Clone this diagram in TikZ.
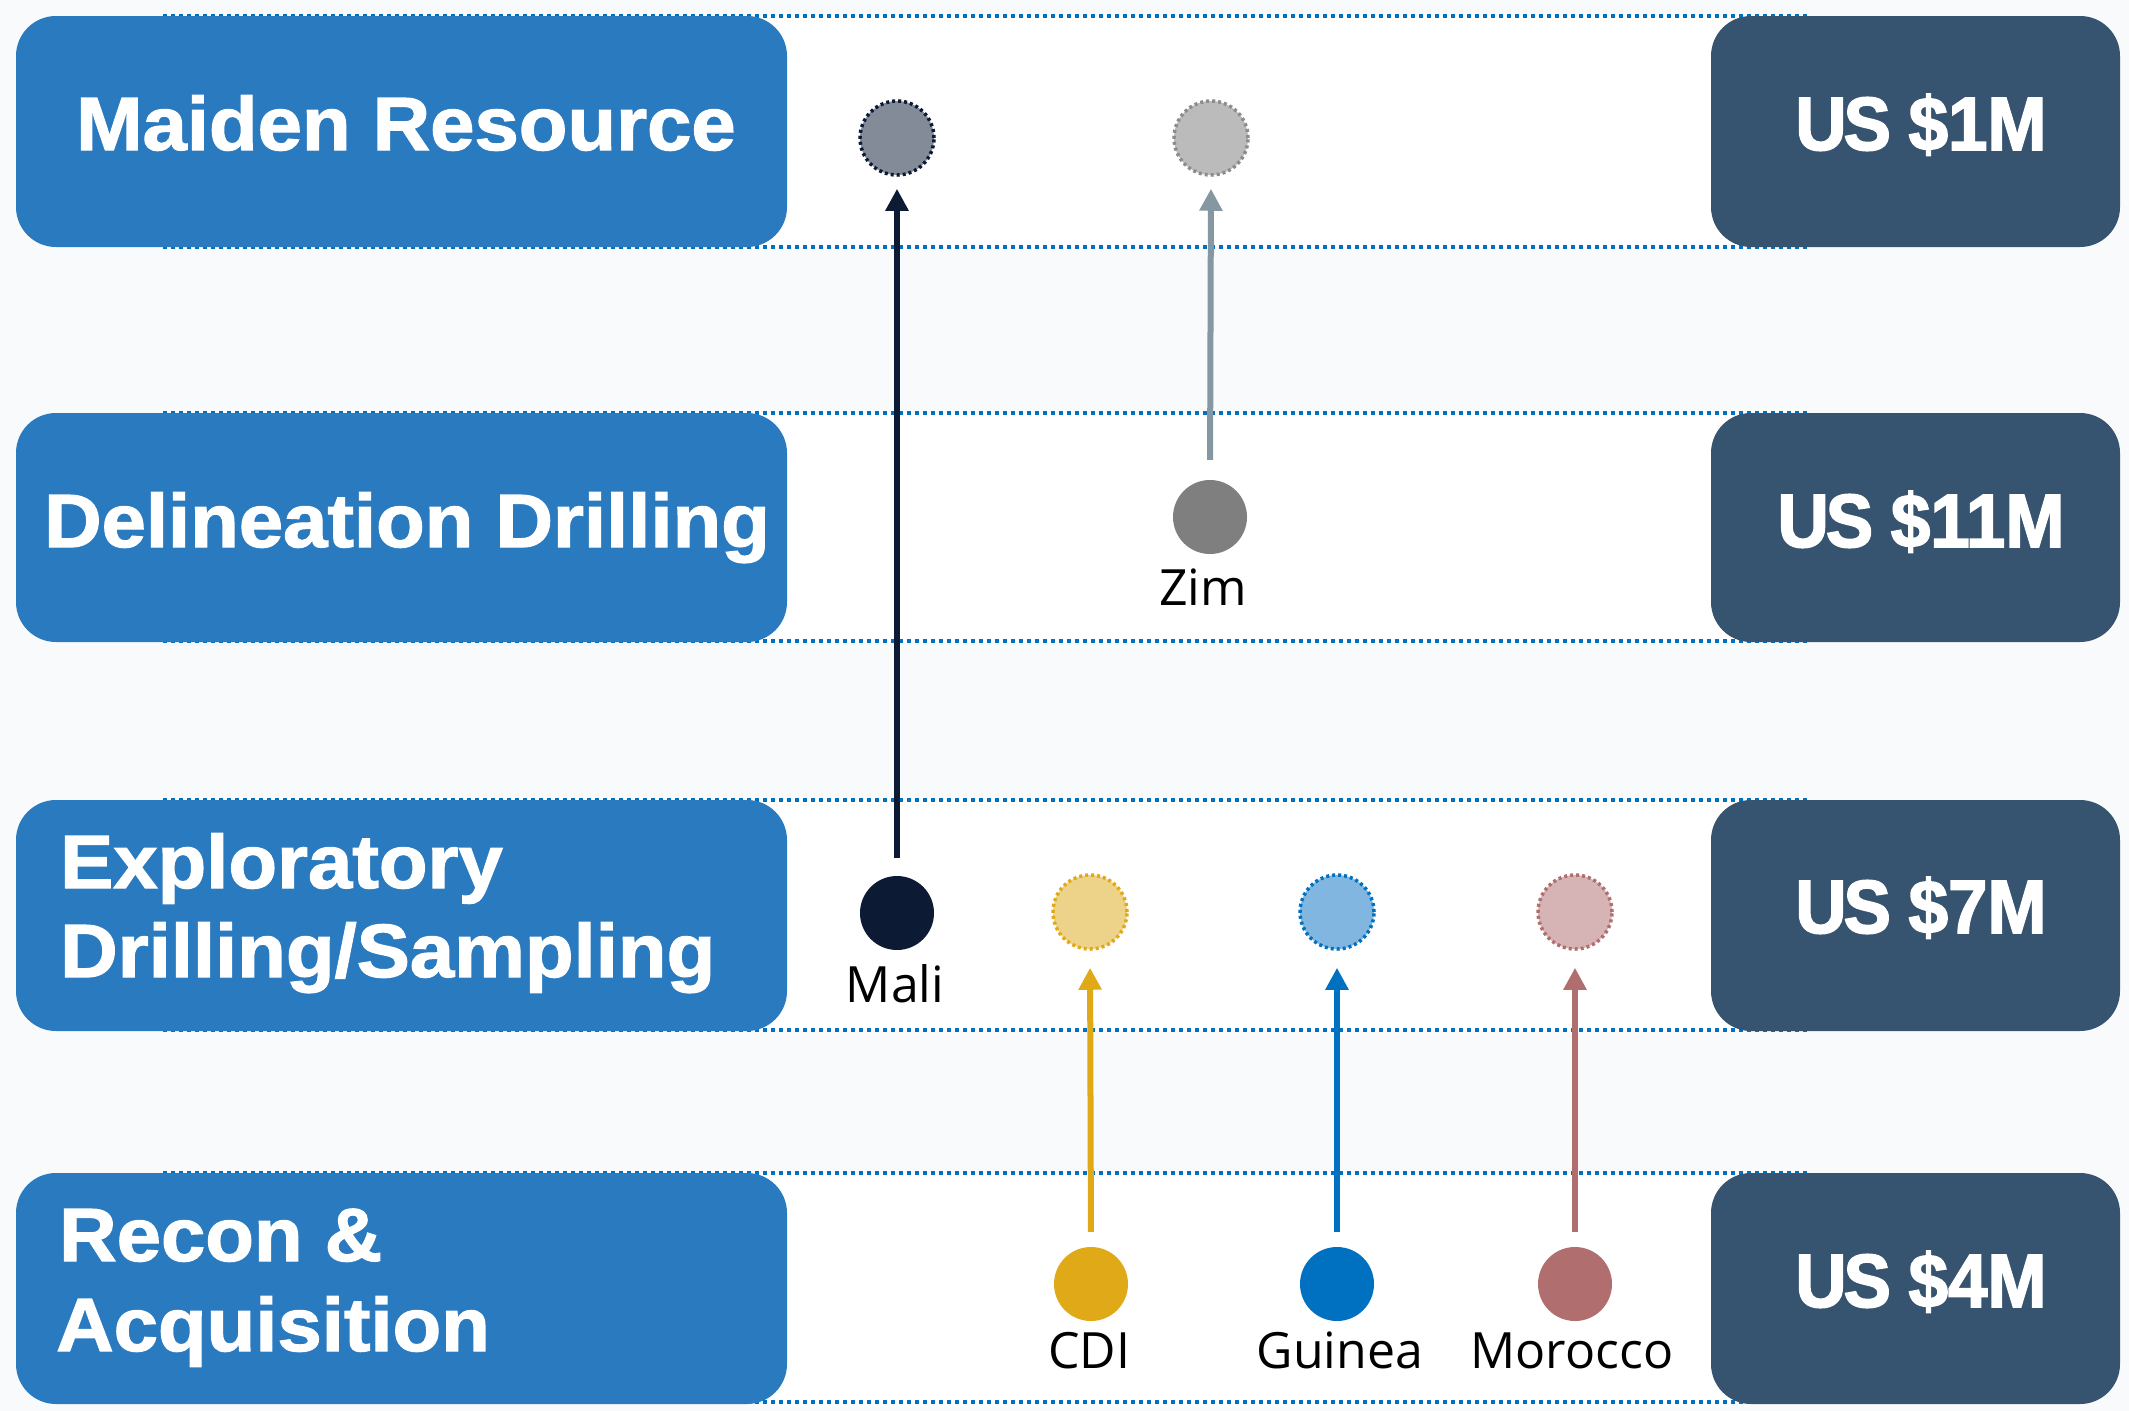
\documentclass[tikz,border=0pt]{standalone}
\usepackage{fontspec}
\usetikzlibrary{arrows.meta}
\newfontfamily\titlefont{Liberation Sans}[FakeStretch=1.055,FakeBold=1.6]
\newfontfamily\costfont{Liberation Sans}[FakeStretch=0.94,FakeBold=2.2]
\newfontfamily\labelfont{Open Sans}
\definecolor{bgc}{HTML}{F8FAFC}
\definecolor{lblue}{HTML}{2A7AC0}
\definecolor{dbox}{HTML}{36536F}
\definecolor{dotc}{HTML}{0070C0}
\definecolor{malic}{HTML}{0C1A33}
\definecolor{maligf}{HTML}{838A98}
\definecolor{zimc}{HTML}{7F7F7F}
\definecolor{zimgf}{HTML}{BBBBBB}
\definecolor{zimgb}{HTML}{8C8C8C}
\definecolor{zima}{HTML}{8597A1}
\definecolor{cdic}{HTML}{E0A918}
\definecolor{cdigf}{HTML}{EDD38A}
\definecolor{guic}{HTML}{0070C0}
\definecolor{guigf}{HTML}{80B6DF}
\definecolor{morc}{HTML}{B06E6E}
\definecolor{morgf}{HTML}{D6B4B5}
\tikzset{
  lbox/.style={fill=lblue, draw=none, rounded corners=40pt, minimum width=771pt, inner sep=0pt},
  rbox/.style={fill=dbox, draw=none, rounded corners=40pt, minimum width=409pt, inner sep=0pt},
  ttext/.style={text=white, inner sep=0pt, font=\titlefont\bfseries\fontsize{75.5}{89}\selectfont},
  ctext/.style={text=white, inner sep=0pt, font=\costfont\bfseries\fontsize{75.5}{89}\selectfont},
  lab/.style={text=black, inner sep=0pt, font=\labelfont\fontsize{50}{60}\selectfont},
  dotline/.style={draw=dotc, line width=3.5pt, dash pattern=on 3.5pt off 4.5pt},
  country/.style={circle, minimum size=74pt, inner sep=0pt, draw=none, fill=#1},
  ghost/.style 2 args={circle, minimum size=74pt, inner sep=0pt, fill=#1, draw=#2, line width=3.5pt, dash pattern=on 3pt off 3pt},
  arr/.style={line width=6pt, -{Triangle[width=22pt,length=22pt]}, draw=#1}
}
\begin{document}
\begin{tikzpicture}[x=1pt,y=-1pt]
\useasboundingbox (0,0) rectangle (2129,1411);
\fill[bgc] (0,0) rectangle (2129,1411);
% bands
\foreach \t/\b in {16/247, 413/641, 800/1030, 1173/1402}{
  \fill[white] (163,\t) rectangle (1809,\b);
  \draw[dotline] (163,\t) -- (1809,\t);
  \draw[dotline] (163,\b) -- (1809,\b);
}
% left boxes
\node[lbox, minimum height=231pt] (b1) at (401.5,131.5) {};
\node[lbox, minimum height=229pt] (b2) at (401.5,527.5) {};
\node[lbox, minimum height=231pt] (b3) at (401.5,915.5) {};
\node[lbox, minimum height=231pt] (b4) at (401.5,1288.5) {};
% right boxes
\node[rbox, minimum height=231pt] (r1) at (1915.5,131.5) {};
\node[rbox, minimum height=229pt] (r2) at (1915.5,527.5) {};
\node[rbox, minimum height=231pt] (r3) at (1915.5,915.5) {};
\node[rbox, minimum height=231pt] (r4) at (1915.5,1288.5) {};
% titles
\node[ttext, anchor=base] (t1) at (406,150) {Maiden Resource};
\node[ttext, anchor=base] (t2) at (407,547) {Delineation Drilling};
\node[ttext, anchor=base west] (t3a) at (60,888) {Exploratory};
\node[ttext, anchor=base west] (t3b) at (60,977) {Drilling/Sampling};
\node[ttext, anchor=base west] (t4a) at (59,1261) {Recon \&};
\node[ttext, anchor=base west] (t4b) at (56,1351) {Acquisition};
% costs
\node[ctext, anchor=base] (c1) at (1921,150) {U\kern-3ptS\kern-2pt{} \$1M};
\node[ctext, anchor=base] (c2) at (1921,547) {U\kern-3ptS\kern-2pt{} \$11M};
\node[ctext, anchor=base] (c3) at (1921,933) {U\kern-3ptS\kern-2pt{} \$7M};
\node[ctext, anchor=base] (c4) at (1921,1307) {U\kern-3ptS\kern-2pt{} \$4M};
% ghost circles
\node[ghost={maligf}{malic}] (malig) at (897,138) {};
\node[ghost={zimgf}{zimgb}] (zimg) at (1211,138) {};
\node[ghost={cdigf}{cdic}] (cdig) at (1090,912) {};
\node[ghost={guigf}{guic}] (guig) at (1337,912) {};
\node[ghost={morgf}{morc}] (morg) at (1575,912) {};
% country circles
\node[country=malic] (mali) at (897,913) {};
\node[country=zimc] (zim) at (1210,517) {};
\node[country=cdic] (cdi) at (1091,1284) {};
\node[country=guic] (gui) at (1337,1284) {};
\node[country=morc] (mor) at (1575,1284) {};
% labels
\node[lab, anchor=base] (lmali) at (895,1002) {Mali};
\node[lab, anchor=base] (lzim) at (1203,605) {Zim};
\node[lab, anchor=base] (lcdi) at (1089,1368) {CDI};
\node[lab, anchor=base] (lgui) at (1340,1368) {Guinea};
\node[lab, anchor=base] (lmor) at (1572,1368) {Morocco};
% arrows
\draw[arr=malic, shorten <=18pt, shorten >=12pt] (mali.north) -- (malig.south);
\draw[arr=zima, shorten <=20pt, shorten >=12pt] (zim.north) -- (zimg.south);
\draw[arr=cdic, shorten <=15pt, shorten >=17pt] (cdi.north) -- (cdig.south);
\draw[arr=guic, shorten <=15pt, shorten >=17pt] (gui.north) -- (guig.south);
\draw[arr=morc, shorten <=15pt, shorten >=17pt] (mor.north) -- (morg.south);
\end{tikzpicture}
\end{document}
